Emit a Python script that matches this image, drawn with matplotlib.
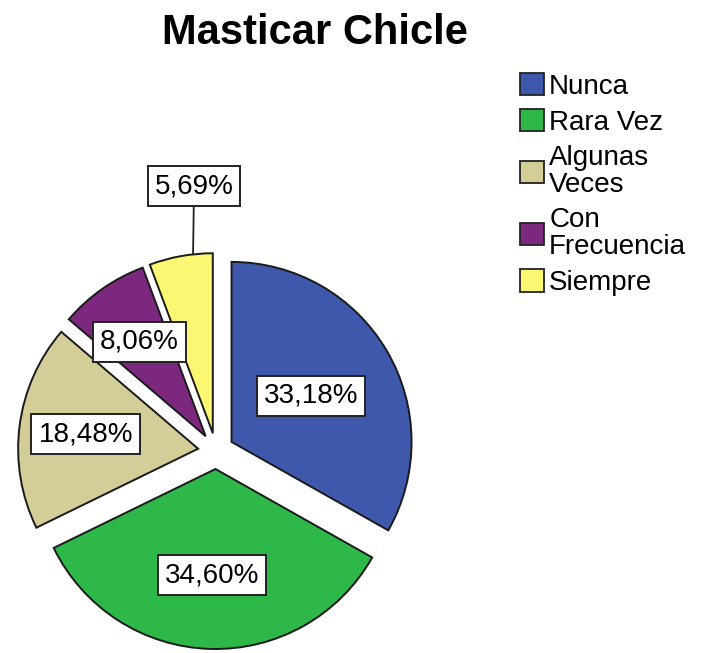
import numpy as np
import matplotlib.pyplot as plt
from matplotlib.patches import Patch

plt.rcParams["font.family"] = ["Liberation Sans", "DejaVu Sans"]

# ---------------------------------------------------------------------------
# data
# ---------------------------------------------------------------------------
categories = ["Nunca", "Rara Vez", "Algunas\nVeces", "Con\nFrecuencia", "Siempre"]
percentages = [33.18, 34.60, 18.48, 8.06, 5.69]
colors = ["#3E58AC", "#2EB84A", "#D3CE98", "#7C287E", "#FBF772"]
label_radius = [0.51, 0.59, 0.63, 0.64, None]  # fraction of r, None -> outside box

# ---------------------------------------------------------------------------
# figure in pixel coordinates
# ---------------------------------------------------------------------------
W, H = 702, 653
fig = plt.figure(figsize=(W / 100, H / 100), dpi=100)
ax = fig.add_axes([0, 0, 1, 1])

cx, cy, r = 216, H - 451, 180
gap = 18  # explode distance in pixels

wedges, _ = ax.pie(
    percentages, colors=colors, startangle=90, counterclock=False,
    center=(cx, cy), radius=r, explode=[gap] * len(percentages),
    wedgeprops=dict(edgecolor="#1a1a1a", linewidth=1.4),
    frame=True,
)
ax.set_xlim(0, W)
ax.set_ylim(0, H)
ax.set_aspect("equal")
ax.axis("off")

box = dict(boxstyle="square,pad=0.25", fc="white", ec="#222222", lw=1.4)
for w, pct, lr in zip(wedges, percentages, label_radius):
    mid = np.deg2rad((w.theta1 + w.theta2) / 2)
    ox, oy = w.center
    txt = f"{pct:.2f}%".replace(".", ",")
    if lr is not None:
        ax.text(ox + lr * r * np.cos(mid), oy + lr * r * np.sin(mid), txt,
                ha="center", va="center", fontsize=20, bbox=box)
    else:
        ang = np.deg2rad(96.3)
        px, py = ox + r * np.cos(ang), oy + r * np.sin(ang)
        ax.annotate(txt, xy=(px, py), xytext=(px + 1, py + 68),
                    ha="center", va="center", fontsize=20, bbox=box,
                    arrowprops=dict(arrowstyle="-", color="#222222", lw=1.3,
                                    shrinkA=0, shrinkB=0))

fig.text(315 / W, 1 - 33 / H, "Masticar Chicle", ha="center", va="center",
         fontsize=30, fontweight="bold")

handles = [Patch(facecolor=c, edgecolor="#222222", lw=1.3) for c in colors]
leg = fig.legend(handles, categories, loc="upper left",
                 bbox_to_anchor=(520 / W, 1 - 73 / H), frameon=False,
                 fontsize=20, handlelength=0.85, handleheight=0.85,
                 handletextpad=0.2, labelspacing=0.34, borderaxespad=0,
                 borderpad=0)
for t in leg.get_texts():
    t.set_linespacing(1.03)

fig.savefig("out.png", dpi=100)
